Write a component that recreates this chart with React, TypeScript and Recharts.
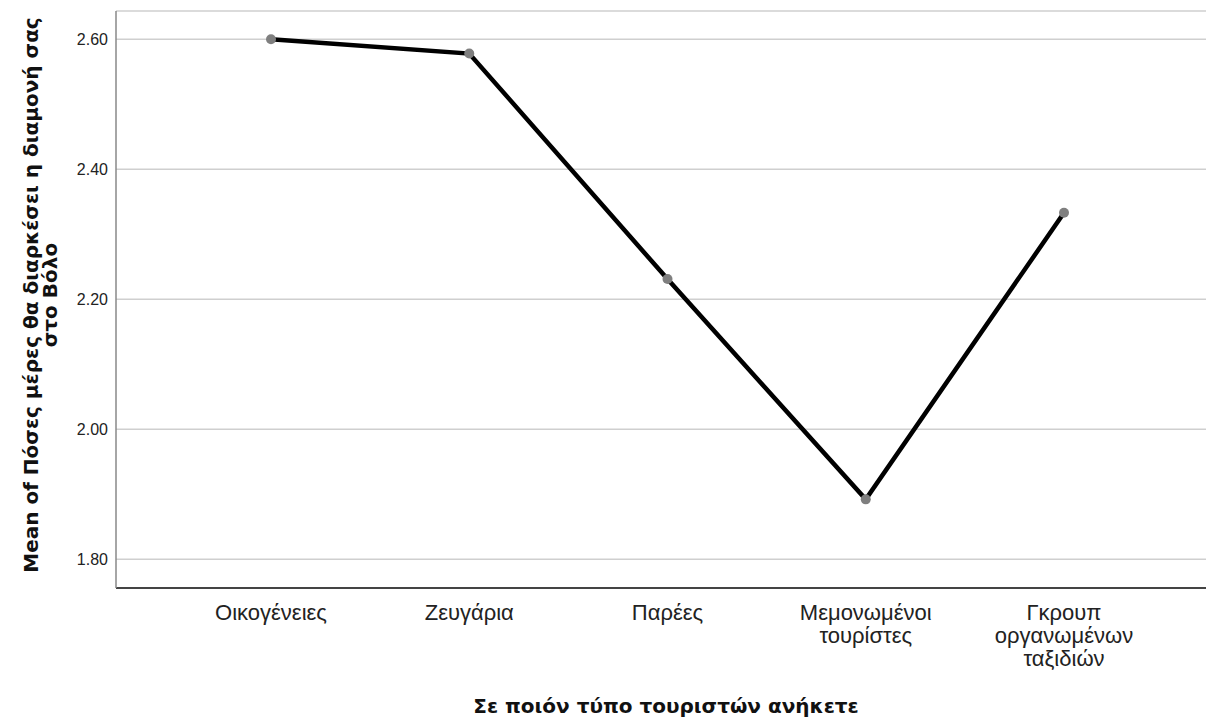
import { LineChart, Line, XAxis, YAxis, CartesianGrid, Label } from "recharts";

const categories = [
  "Οικογένειες",
  "Ζευγάρια",
  "Παρέες",
  "Μεμονωμένοι\nτουρίστες",
  "Γκρουπ\nοργανωμένων\nταξιδιών",
];
const means = [2.6, 2.578, 2.231, 1.892, 2.333];
const yTicks = [1.8, 2.0, 2.2, 2.4, 2.6];
const yTitle = ["Mean of Πόσες μέρες θα διαρκέσει η διαμονή σας", "στο Βόλο"];
const xTitle = "Σε ποιόν τύπο τουριστών ανήκετε";

const data = categories.map((c, i) => ({ cat: c, mean: means[i] }));

const FONT = "'Liberation Sans', Arial, sans-serif";
const TITLE_FONT = "'DejaVu Sans', 'Liberation Sans', Arial, sans-serif";

function CatTick({ x, y, payload }: any) {
  const lines = String(payload.value).split("\n");
  return (
    <text x={x} y={y} textAnchor="middle" fontFamily={FONT} fontSize={22} fill="#222">
      {lines.map((l, i) => (
        <tspan key={i} x={x} y={y + 24 + i * 23} dy="0.35em">
          {l}
        </tspan>
      ))}
    </text>
  );
}

export default function App() {
  return (
    <div style={{ position: "absolute", left: 0, top: 0, background: "#fff" }}>
      <LineChart
        width={1206}
        height={717}
        data={data}
        margin={{ top: 11, right: 0, bottom: 0, left: 0 }}
      >
        <CartesianGrid vertical={false} stroke="#cfcfcf" strokeWidth={1.5} />
        <XAxis
          dataKey="cat"
          height={129}
          padding={{ left: 155, right: 142 }}
          tickLine={false}
          tickSize={0}
          tickMargin={0}
          interval={0}
          axisLine={{ stroke: "#444", strokeWidth: 2 }}
          tick={<CatTick />}
        >
          <Label
            content={() => (
              <text
                x={666}
                y={706}
                textAnchor="middle"
                dominantBaseline="central"
                fontFamily={TITLE_FONT}
                fontWeight="bold"
                fontSize={20}
                fill="#111"
              >
                {xTitle}
              </text>
            )}
          />
        </XAxis>
        <YAxis
          width={116}
          domain={[1.7556, 2.6435]}
          allowDataOverflow
          ticks={yTicks}
          tickFormatter={(v: number) => v.toFixed(2)}
          tickLine={false}
          tickSize={0}
          tickMargin={8}
          axisLine={{ stroke: "#888", strokeWidth: 1.5 }}
          tick={{ fill: "#222", fontSize: 16, fontFamily: FONT }}
        >
          <Label
            content={() => (
              <g transform="translate(0,295) rotate(-90)">
                {yTitle.map((t, i) => (
                  <text
                    key={i}
                    x={0}
                    y={31 + i * 19}
                    textAnchor="middle"
                    dominantBaseline="central"
                    fontFamily={TITLE_FONT}
                    fontWeight="bold"
                    fontSize={20}
                    fill="#111"
                  >
                    {t}
                  </text>
                ))}
              </g>
            )}
          />
        </YAxis>
        <Line
          type="linear"
          dataKey="mean"
          stroke="#000"
          strokeWidth={4.5}
          dot={{ r: 5, fill: "#7f7f7f", stroke: "none" }}
          activeDot={false}
          isAnimationActive={false}
        />
      </LineChart>
    </div>
  );
}
